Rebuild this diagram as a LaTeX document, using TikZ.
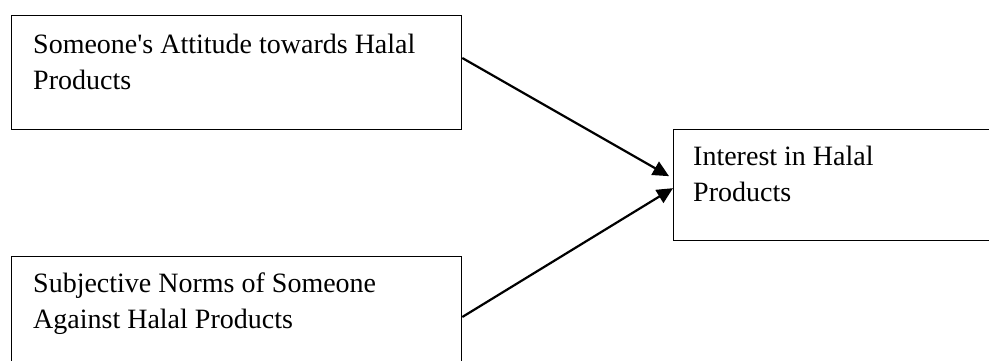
\documentclass[tikz,border=0pt]{standalone}
\usepackage{fontspec}
\setmainfont{Liberation Serif}
\usetikzlibrary{arrows.meta}
\newcommand{\apos}{{\XeTeXglyph\XeTeXcharglyph"0027\relax}}
\begin{document}
\begin{tikzpicture}[x=1pt,y=-1pt,
  boxnode/.style={draw=black, line width=1.3pt, rectangle, inner sep=0pt, anchor=north west},
  boxtext/.style={anchor=base west, align=left, inner sep=0pt, font=\fontsize{28}{36}\selectfont},
  link/.style={line width=2.2pt, -{Triangle[length=16pt,width=15pt]}}]
\useasboundingbox (0,0) rectangle (989,360);
\clip (0,0) rectangle (989,360);
\node[boxnode, minimum width=450pt, minimum height=114pt] (att) at (11,15) {};
\node[boxnode, minimum width=450pt, minimum height=114pt] (soc) at (11,256) {};
\node[boxnode, minimum width=340pt, minimum height=111pt] (int) at (673,129) {};
% base anchor of a multi-line node is the baseline of its last line
\node[boxtext] (atttext) at (33,89) {Someone\apos s Attitude towards Halal\\Products};
\node[boxtext] (soctext) at (33,328) {Subjective Norms of Someone\\Against Halal Products};
\node[boxtext] (inttext) at (693,201) {Interest in Halal\\Products};
\draw[link] ([yshift=-43pt]att.north east) -- ([xshift=-4pt,yshift=9pt]int.west);
\draw[link] ([yshift=-61pt]soc.north east) -- ([yshift=-3pt]int.west);
\end{tikzpicture}
\end{document}
